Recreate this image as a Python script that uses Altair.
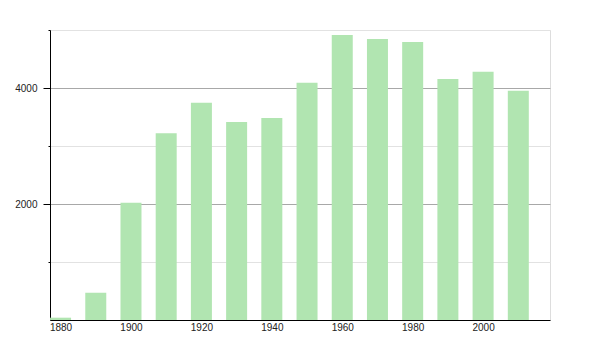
import altair as alt
import pandas as pd

years = [1880, 1890, 1900, 1910, 1920, 1930, 1940, 1950, 1960, 1970, 1980, 1990, 2000, 2010]
population = [40, 470, 2020, 3220, 3745, 3414, 3483, 4092, 4914, 4845, 4793, 4155, 4281, 3953]

df = pd.DataFrame({"year": years, "pop": population})

y_axis = alt.Axis(
    values=[1000, 2000, 3000, 4000, 5000],
    format="d",
    labelExpr="datum.value % 2000 === 0 ? datum.label : ''",
    gridColor={"condition": {"test": "datum.value % 2000 === 0", "value": "#a8a8a8"}, "value": "#e2e2e2"},
    tickSize={"condition": {"test": "datum.value % 2000 === 0", "value": 7}, "value": 2},
    tickColor="#000000",
    domainColor="#000000",
    labelFont="Liberation Sans",
    labelFontSize=10,
    labelColor="#222222",
    labelPadding=6,
    title=None,
)

x_axis = alt.Axis(
    values=[1880, 1900, 1920, 1940, 1960, 1980, 2000],
    format="d",
    grid=False,
    ticks=False,
    domainColor="#000000",
    labelFont="Liberation Sans",
    labelFontSize=10,
    labelColor="#222222",
    labelPadding=2,
    title=None,
)

chart = alt.Chart(df).mark_bar(size=21, color="#b1e5b1").encode(
    x=alt.X("year:Q", scale=alt.Scale(domain=[1877, 2019], nice=False, zero=False, padding=0), axis=x_axis),
    y=alt.Y("pop:Q", scale=alt.Scale(domain=[0, 5000], nice=False), axis=y_axis),
).properties(
    width=500,
    height=290,
    autosize=alt.AutoSizeParams(type="none"),
    padding={"left": 50, "top": 30, "right": 50, "bottom": 30},
).configure_view(stroke=None).configure(background="white")

chart.save("out.html", embed_options={"renderer": "svg", "actions": False})
